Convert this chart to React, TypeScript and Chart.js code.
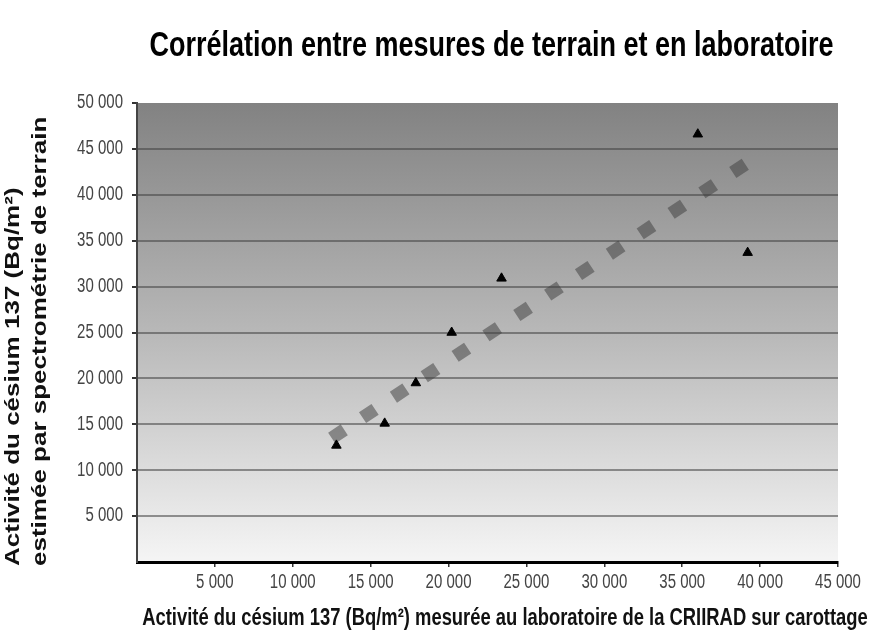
import { useEffect, useRef } from "react";
import { Chart, registerables } from "chart.js";

Chart.register(...registerables);

// ---- data ----
const labMeasured = [12800, 15900, 17900, 20200, 23400, 36000, 39200];
const fieldEstimated = [12700, 15100, 19500, 25000, 30900, 46600, 33700];
const trendLab = [12500, 39200];
const trendField = [13500, 43500];
const xTickValues = [5000, 10000, 15000, 20000, 25000, 30000, 35000, 40000, 45000];
const yTickValues = [5000, 10000, 15000, 20000, 25000, 30000, 35000, 40000, 45000, 50000];
const chartTitle = "Corrélation entre mesures de terrain et en laboratoire";
const xAxisTitle = "Activité du césium 137 (Bq/m²) mesurée au laboratoire de la CRIIRAD sur carottage";
const yAxisTitleLines = ["Activité du césium 137 (Bq/m²)", "estimée par spectrométrie de terrain"];

const STRETCH = 1.3;
const FONT = "'Liberation Sans', Arial, sans-serif";

function fmt(v: number): string {
  return String(v).replace(/\B(?=(\d{3})+(?!\d))/g, " ");
}

function drawText(
  ctx: CanvasRenderingContext2D,
  text: string,
  x: number,
  y: number,
  o: { font: string; color: string; align: CanvasTextAlign; baseline: CanvasTextBaseline; rotate?: number }
) {
  ctx.save();
  ctx.translate(x, y);
  if (o.rotate) {
    ctx.rotate(o.rotate);
    ctx.scale(STRETCH, 1);
  } else {
    ctx.scale(1, STRETCH);
  }
  ctx.font = o.font;
  ctx.fillStyle = o.color;
  ctx.textAlign = o.align;
  ctx.textBaseline = o.baseline;
  ctx.fillText(text, 0, 0);
  ctx.restore();
}

const backgroundPlugin = {
  id: "plotBackground",
  beforeDraw(chart: any) {
    const { ctx, chartArea } = chart;
    if (!chartArea) return;
    const { left, top, right, bottom } = chartArea;
    ctx.save();
    const g = ctx.createLinearGradient(0, top, 0, bottom);
    g.addColorStop(0, "#828282");
    g.addColorStop(0.5, "#b8b8b8");
    g.addColorStop(1, "#f5f5f5");
    ctx.fillStyle = g;
    ctx.fillRect(left, top, right - left, bottom - top);
    ctx.restore();
  },
};

const textPlugin = {
  id: "textLayer",
  afterDraw(chart: any) {
    const { ctx, chartArea, scales } = chart;
    const xs = scales.x;
    const ys = scales.y;
    ctx.save();
    yTickValues.forEach((v) => {
      const py = ys.getPixelForValue(v);
      drawText(ctx, fmt(v), chartArea.left - 14, py, {
        font: `15px ${FONT}`,
        color: "#444",
        align: "right",
        baseline: "middle",
      });
    });
    xTickValues.forEach((v) => {
      const px = xs.getPixelForValue(v);
      drawText(ctx, fmt(v), px, chartArea.bottom + 21, {
        font: `15px ${FONT}`,
        color: "#444",
        align: "center",
        baseline: "middle",
      });
    });
    drawText(ctx, chartTitle, (chartArea.left + chartArea.right) / 2 + 4, 46, {
      font: `bold 27px ${FONT}`,
      color: "#000",
      align: "center",
      baseline: "middle",
    });
    drawText(ctx, xAxisTitle, 505, chartArea.bottom + 56, {
      font: `bold 18.4px ${FONT}`,
      color: "#111",
      align: "center",
      baseline: "middle",
    });
    const baselines = [19, 46];
    yAxisTitleLines.forEach((line, i) => {
      drawText(ctx, line, baselines[i], 566, {
        font: `bold 20px ${FONT}`,
        color: "#111",
        align: "left",
        baseline: "alphabetic",
        rotate: -Math.PI / 2,
      });
    });
    ctx.restore();
  },
};

export default function App() {
  const canvasRef = useRef<HTMLCanvasElement | null>(null);

  useEffect(() => {
    if (!canvasRef.current) return;
    const points = labMeasured.map((x, i) => ({ x, y: fieldEstimated[i] }));
    const trend = trendLab.map((x, i) => ({ x, y: trendField[i] }));
    const chart = new Chart(canvasRef.current, {
      type: "scatter",
      data: {
        datasets: [
          {
            label: "Mesures",
            data: points,
            pointStyle: "triangle",
            pointRadius: 5.5,
            pointBackgroundColor: "#000",
            pointBorderColor: "#000",
            pointBorderWidth: 1,
            order: 0,
          },
          {
            label: "Tendance",
            data: trend,
            showLine: true,
            pointRadius: 0,
            borderColor: "rgba(64,64,64,0.52)",
            borderWidth: 13,
            borderDash: [15, 22],
            borderCapStyle: "butt",
            order: 1,
          } as any,
        ],
      },
      options: {
        animation: false,
        responsive: true,
        maintainAspectRatio: false,
        layout: { padding: { top: 103, right: 39, bottom: 0, left: 0 } },
        plugins: {
          legend: { display: false },
          title: { display: false },
          tooltip: { enabled: false },
        },
        scales: {
          x: {
            type: "linear",
            min: 0,
            max: 45000,
            afterFit: (s: any) => {
              s.height = 73;
            },
            ticks: { stepSize: 5000, color: "rgba(0,0,0,0)", font: { size: 12 } },
            grid: {
              drawOnChartArea: false,
              drawTicks: true,
              tickLength: 5,
              tickColor: (c: any) => (c.tick && c.tick.value === 0 ? "rgba(0,0,0,0)" : "#333"),
              lineWidth: 1.5,
            },
            border: { display: true, color: "#000", width: 3 },
          },
          y: {
            type: "linear",
            min: 0,
            max: 50000,
            afterFit: (s: any) => {
              s.width = 137;
            },
            ticks: { stepSize: 5000, color: "rgba(0,0,0,0)", font: { size: 12 } },
            grid: {
              drawTicks: true,
              tickLength: 5,
              tickColor: (c: any) => (c.tick && c.tick.value === 0 ? "rgba(0,0,0,0)" : "#333"),
              lineWidth: 2,
              color: (c: any) =>
                c.tick && (c.tick.value === 0 || c.tick.value === 50000)
                  ? "rgba(0,0,0,0)"
                  : "rgba(66,66,66,0.55)",
            },
            border: { display: true, color: "#444", width: 2 },
          },
        },
      },
      plugins: [backgroundPlugin, textPlugin],
    });
    return () => chart.destroy();
  }, []);

  return (
    <div style={{ position: "fixed", left: 0, top: 0, width: 877, height: 635, background: "#fff" }}>
      <canvas ref={canvasRef} />
    </div>
  );
}
